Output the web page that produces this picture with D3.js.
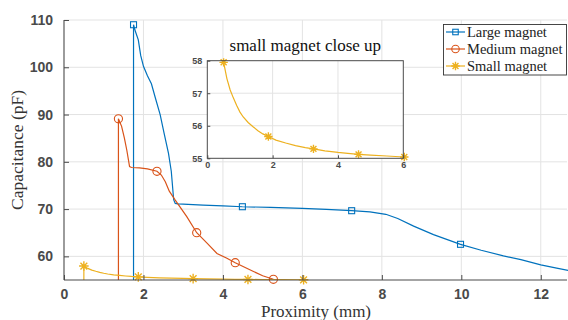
<!DOCTYPE html>
<html>
<head>
<meta charset="utf-8">
<script src="https://cdn.jsdelivr.net/npm/d3@7"></script>
<style>
  body { margin: 0; background: #fff; }
  svg { display: block; }
</style>
</head>
<body>
<svg width="568" height="320"></svg>
<script>
// data
const largeX = [1.75, 1.75, 1.8, 1.87, 1.93, 2.0, 2.1, 2.2, 2.3, 2.42, 2.52, 2.63, 2.7, 2.76, 2.8, 2.87, 3.5, 4.0, 4.49, 5.2, 6.0, 6.6, 7.24, 7.7, 8.1, 8.4, 8.8, 9.3, 9.98, 10.5, 11.06, 11.5, 12.0, 12.4, 12.7];
const largeY = [0, 109, 107.5, 105.8, 102.5, 100.2, 98.2, 96.5, 93.5, 90, 86, 81.8, 78, 72, 71.2, 71.1, 70.85, 70.7, 70.5, 70.35, 70.15, 69.95, 69.66, 69.4, 68.9, 68.0, 66.4, 64.6, 62.55, 61.3, 60.1, 59.3, 58.2, 57.5, 57.0];
const largeMarks = [1, 18, 22, 28];

const mediumX = [1.37, 1.37, 1.45, 1.52, 1.58, 1.65, 1.7, 1.9, 2.1, 2.34, 2.45, 2.55, 2.65, 2.8, 3.09, 3.34, 3.6, 3.85, 4.1, 4.31, 4.77, 5.0, 5.27];
const mediumY = [0, 89.1, 87.5, 85, 82.5, 79, 78.8, 78.7, 78.5, 78.0, 77.2, 75.8, 73.8, 71.9, 68.4, 65.0, 62.8, 60.6, 59.6, 58.66, 56.8, 55.9, 55.15];
const mediumMarks = [1, 9, 15, 19, 22];

const smallX = [0.5, 0.5, 0.6, 0.7, 0.8, 0.9, 1.0, 1.1, 1.25, 1.4, 1.55, 1.7, 1.87, 2.1, 2.4, 2.7, 3.0, 3.25, 3.6, 4.0, 4.3, 4.63, 5.0, 5.5, 6.03];
const smallY = [0, 57.95, 57.45, 57.1, 56.85, 56.62, 56.42, 56.27, 56.1, 55.97, 55.85, 55.75, 55.67, 55.56, 55.47, 55.39, 55.33, 55.29, 55.23, 55.18, 55.15, 55.12, 55.1, 55.07, 55.04];
const smallMarks = [1, 12, 17, 21, 24];

const xTicks = [0, 2, 4, 6, 8, 10, 12];
const yTicks = [60, 70, 80, 90, 100, 110];
const insetXTicks = [0, 2, 4, 6];
const insetYTicks = [55, 56, 57, 58];
const legendNames = ["Large magnet", "Medium magnet", "Small magnet"];

const series = [
  { name: legendNames[0], x: largeX, y: largeY, marks: largeMarks, color: "#0072BD", marker: "square" },
  { name: legendNames[1], x: mediumX, y: mediumY, marks: mediumMarks, color: "#D95319", marker: "circle" },
  { name: legendNames[2], x: smallX, y: smallY, marks: smallMarks, color: "#EDB120", marker: "star" }
];

const svg = d3.select("svg");
const axisColor = "#4a4a4a";
const gridColor = "#e3e3e3";

const L = 64, R = 567, T = 20, B = 280;
const x = d3.scaleLinear().domain([0, 12.66]).range([L, R]);
const y = d3.scaleLinear().domain([55, 110]).range([B, T]);

svg.append("defs").append("clipPath").attr("id", "mainclip")
  .append("rect").attr("x", L).attr("y", T - 2).attr("width", R - L + 2).attr("height", B - T + 2);

// grid
const grid = svg.append("g");
grid.selectAll(".gx").data(xTicks.filter(d => d > 0)).join("line")
  .attr("x1", d => x(d)).attr("x2", d => x(d)).attr("y1", T).attr("y2", B)
  .attr("stroke", gridColor);
grid.selectAll(".gy").data(yTicks).join("line")
  .attr("x1", L).attr("x2", R).attr("y1", d => y(d)).attr("y2", d => y(d))
  .attr("stroke", gridColor);

function drawMarker(g, type, px, py, color, size) {
  if (type === "square") {
    g.append("rect").attr("x", px - size / 2).attr("y", py - size / 2)
      .attr("width", size).attr("height", size)
      .attr("fill", "none").attr("stroke", color).attr("stroke-width", 1.1);
  } else if (type === "circle") {
    g.append("circle").attr("cx", px).attr("cy", py).attr("r", size * 0.68)
      .attr("fill", "none").attr("stroke", color).attr("stroke-width", 1.1);
  } else {
    const r = size * 0.6;
    let p = "";
    for (let k = 0; k < 4; k++) {
      const a = k * Math.PI / 4;
      p += `M${px - r * Math.cos(a)},${py - r * Math.sin(a)}L${px + r * Math.cos(a)},${py + r * Math.sin(a)}`;
    }
    g.append("path").attr("d", p).attr("stroke", color).attr("stroke-width", 1.4);
  }
}

// series in main axes
const lineGen = (sx, sy) => d3.line().x(d => sx(d[0])).y(d => sy(d[1]));
series.forEach(s => {
  const pts = s.x.map((v, i) => [v, s.y[i]]);
  svg.append("path").datum(pts)
    .attr("clip-path", "url(#mainclip)")
    .attr("d", lineGen(x, y))
    .attr("fill", "none").attr("stroke", s.color).attr("stroke-width", 1.2);
});
series.forEach(s => {
  const g = svg.append("g");
  s.marks.forEach(i => drawMarker(g, s.marker, x(s.x[i]), y(s.y[i]), s.color, s.marker === "star" ? 8 : 6));
});

// axes
const xAxis = svg.append("g").attr("transform", `translate(0,${B})`)
  .call(d3.axisBottom(x).tickValues(xTicks).tickSize(-5).tickPadding(9).tickFormat(d3.format("d")));
const yAxis = svg.append("g").attr("transform", `translate(${L},0)`)
  .call(d3.axisLeft(y).tickValues(yTicks).tickSize(-5).tickPadding(11).tickFormat(d3.format("d")));
[xAxis, yAxis].forEach(a => {
  a.select(".domain").attr("stroke", axisColor).attr("stroke-width", 1.1);
  a.selectAll(".tick line").attr("stroke", axisColor);
  a.selectAll("text").attr("fill", axisColor)
    .style("font-family", "'Liberation Sans', Arial, sans-serif")
    .style("font-weight", "bold").style("font-size", "14px");
});
yAxis.select(".domain").attr("d", `M0,${T}V${B}`);
xAxis.select(".domain").attr("d", `M${L},0H${R}`);

// axis labels
svg.append("text").attr("x", (L + R) / 2 + 0.5).attr("y", 317)
  .attr("text-anchor", "middle")
  .style("font-family", "'Liberation Serif', 'Times New Roman', serif")
  .style("font-size", "17px").attr("fill", "#333")
  .text("Proximity (mm)");
svg.append("text").attr("transform", `translate(23,150) rotate(-90)`)
  .attr("text-anchor", "middle")
  .style("font-family", "'Liberation Serif', 'Times New Roman', serif")
  .style("font-size", "17.5px").attr("fill", "#333")
  .text("Capacitance (pF)");

// legend
const lg = svg.append("g");
lg.append("rect").attr("x", 443.5).attr("y", 24.5).attr("width", 123).attr("height", 50.5)
  .attr("fill", "#fff").attr("stroke", "#333").attr("stroke-width", 0.9);
series.forEach((s, i) => {
  const ly = 32 + i * 17;
  lg.append("line").attr("x1", 446).attr("x2", 465).attr("y1", ly).attr("y2", ly)
    .attr("stroke", s.color).attr("stroke-width", 1.2);
  drawMarker(lg, s.marker, 455.5, ly, s.color, s.marker === "star" ? 7 : 5.5);
  lg.append("text").attr("x", 467).attr("y", ly + 4.5)
    .style("font-family", "'Liberation Serif', 'Times New Roman', serif")
    .style("font-size", "14.5px").attr("fill", "#222")
    .text(s.name);
});

// inset
const iL = 207.3, iR = 403.3, iT = 60.7, iB = 158.3;
const ix = d3.scaleLinear().domain([0, 6]).range([iL, iR]);
const iy = d3.scaleLinear().domain([55, 58]).range([iB, iT]);
const inset = svg.append("g");
inset.append("rect").attr("x", iL).attr("y", iT).attr("width", iR - iL).attr("height", iB - iT).attr("fill", "#fff");
inset.selectAll(".igx").data([2, 4]).join("line")
  .attr("x1", d => ix(d)).attr("x2", d => ix(d)).attr("y1", iT).attr("y2", iB).attr("stroke", gridColor);
inset.selectAll(".igy").data([56, 57]).join("line")
  .attr("x1", iL).attr("x2", iR).attr("y1", d => iy(d)).attr("y2", d => iy(d)).attr("stroke", gridColor);

svg.select("defs").append("clipPath").attr("id", "insetclip")
  .append("rect").attr("x", iL).attr("y", iT - 2).attr("width", iR - iL).attr("height", iB - iT + 2);
const smallPts = smallX.map((v, i) => [v, smallY[i]]).slice(1);
inset.append("path").datum(smallPts)
  .attr("clip-path", "url(#insetclip)")
  .attr("d", lineGen(ix, iy))
  .attr("fill", "none").attr("stroke", "#EDB120").attr("stroke-width", 1.2);
smallMarks.forEach(i => drawMarker(inset, "star", ix(smallX[i]), iy(smallY[i]), "#EDB120", 7));

const ixAxis = inset.append("g").attr("transform", `translate(0,${iB})`)
  .call(d3.axisBottom(ix).tickValues(insetXTicks).tickSize(-3).tickPadding(3).tickFormat(d3.format("d")));
const iyAxis = inset.append("g").attr("transform", `translate(${iL},0)`)
  .call(d3.axisLeft(iy).tickValues(insetYTicks).tickSize(-3).tickPadding(5).tickFormat(d3.format("d")));
[ixAxis, iyAxis].forEach(a => {
  a.select(".domain").remove();
  a.selectAll(".tick line").attr("stroke", axisColor);
  a.selectAll("text").attr("fill", axisColor)
    .style("font-family", "'Liberation Sans', Arial, sans-serif")
    .style("font-weight", "bold").style("font-size", "9px");
});
inset.append("rect").attr("x", iL).attr("y", iT).attr("width", iR - iL).attr("height", iB - iT)
  .attr("fill", "none").attr("stroke", axisColor).attr("stroke-width", 1);
inset.append("text").attr("x", (iL + iR) / 2).attr("y", 51)
  .attr("text-anchor", "middle")
  .style("font-family", "'Liberation Serif', 'Times New Roman', serif")
  .style("font-size", "17px").attr("fill", "#111")
  .text("small magnet close up");
</script>
</body>
</html>
